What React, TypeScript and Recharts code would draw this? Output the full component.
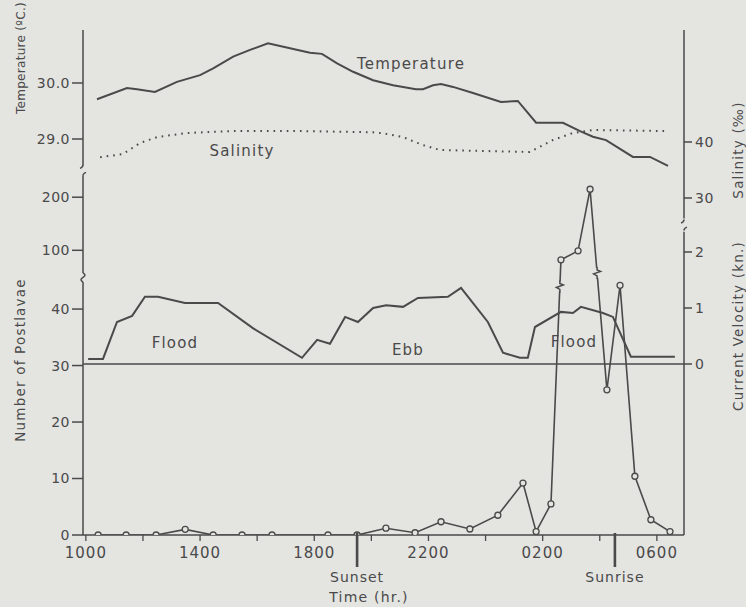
import { ComposedChart, LineChart, Line, XAxis, YAxis, ReferenceLine, ReferenceDot } from 'recharts';

const INK = '#4a4a4a';
const PAPER = '#e4e4e1';
const FONT = '"DejaVu Sans", sans-serif';

// time axis runs in hours after 1000
const X_MIN = -0.1;
const X_MAX = 20.95;
const timeTicks = [0, 2, 4, 6, 8, 10, 12, 14, 16, 18, 20];
const labelledTimes = [0, 4, 8, 12, 16, 20];
const sunMarks = [
  { hour: 9.5, label: 'Sunset' },
  { hour: 18.53, label: 'Sunrise' },
];

const tempHours = [0.39, 1.44, 1.79, 2.42, 3.19, 4.0, 4.46, 5.16, 5.75, 6.38, 7.15, 7.85, 8.27, 8.8, 9.36, 10.06, 10.76, 11.56, 11.81, 12.16, 12.44, 12.86, 13.56, 14.54, 15.13, 15.77, 16.71, 17.31, 17.76, 18.22, 19.16, 19.76, 20.39];
const temperature = [29.71, 29.91, 29.89, 29.84, 30.02, 30.14, 30.26, 30.47, 30.59, 30.71, 30.62, 30.54, 30.52, 30.35, 30.2, 30.05, 29.96, 29.89, 29.89, 29.96, 29.98, 29.93, 29.82, 29.66, 29.68, 29.29, 29.29, 29.14, 29.04, 28.98, 28.68, 28.68, 28.52];

const salinityHours = [0.5, 1.3, 1.9, 2.5, 3.55, 5.15, 7.5, 10.06, 10.4, 11.1, 11.8, 12.4, 15.55, 16.36, 17.06, 17.76, 20.3];
const salinity = [37.27, 37.86, 39.82, 40.89, 41.61, 41.96, 41.96, 41.73, 41.55, 40.89, 39.46, 38.57, 38.21, 40.36, 41.61, 42.14, 41.96];

const currentHours = [0.08, 0.6, 1.09, 1.62, 2.07, 2.53, 3.47, 4.63, 5.85, 7.57, 8.1, 8.55, 9.08, 9.53, 10.06, 10.52, 11.11, 11.63, 12.68, 13.14, 14.08, 14.61, 15.2, 15.48, 15.73, 16.64, 17.06, 17.34, 18.11, 18.46, 19.09, 20.63];
const currentVelocity = [0.09, 0.09, 0.75, 0.86, 1.2, 1.2, 1.09, 1.09, 0.64, 0.11, 0.43, 0.36, 0.84, 0.75, 1.0, 1.05, 1.02, 1.18, 1.2, 1.36, 0.75, 0.2, 0.11, 0.11, 0.66, 0.93, 0.91, 1.02, 0.91, 0.84, 0.13, 0.13];

const larvaeHours = [0.43, 1.41, 2.46, 3.48, 4.46, 5.47, 6.52, 8.48, 9.5, 10.51, 11.53, 12.44, 13.45, 14.43, 15.31, 15.77, 16.29, 16.64, 17.24, 17.66, 18.25, 18.71, 19.23, 19.79, 20.46];
const postlarvae = [0, 0, 0, 1.0, 0, 0, 0, 0, 0, 1.2, 0.4, 2.35, 1.06, 3.5, 9.2, 0.6, 5.5, 82, 99, 215, 25.7, 44.2, 10.4, 2.7, 0.6];

const tempTicks = [29, 30];
const salinityTicks = [30, 40];
const velocityTicks = [0, 1, 2];
const countTicks = [0, 10, 20, 30, 40, 100, 200];

// the count axis is broken: above the break the scale is compressed
const countToAxis = (n: number) => (n <= 47 ? n : 50.4 + (n - 100) * 0.094);
const countAxisTicks = countTicks.map(countToAxis);
const COUNT_TOP = 89.4;

const tempData = tempHours.map((h, i) => ({ h, v: temperature[i] }));
const salinityData = salinityHours.map((h, i) => ({ h, v: salinity[i] }));
const currentData = currentHours.map((h, i) => ({ h, v: currentVelocity[i] }));
const larvaeData = larvaeHours.map((h, i) => ({ h, v: countToAxis(postlarvae[i]) }));

// zig-zags where the larvae line crosses the axis break
const larvaeBreaks = [
  { seg: 16, level: 44 },
  { seg: 19, level: 46.4 },
];
const crossingHour = (i: number, level: number) => {
  const a = countToAxis(postlarvae[i]);
  const b = countToAxis(postlarvae[i + 1]);
  const t = (level - a) / (b - a);
  return larvaeHours[i] + t * (larvaeHours[i + 1] - larvaeHours[i]);
};

const clock = (h: number) => String(((10 + h) % 24) * 100).padStart(4, '0');

const text = { fill: INK, fontFamily: FONT };

function TimeTick({ x, y, payload }: any) {
  const h = payload.value;
  const base = y - 8;
  const sun = sunMarks.find((s) => s.hour === h);
  if (sun) {
    return (
      <g>
        <line x1={x} x2={x} y1={base - 2} y2={base + 32} stroke={INK} strokeWidth={2.6} />
        <text x={x} y={base + 47} textAnchor="middle" fontSize={14} letterSpacing={1} {...text}>
          {sun.label}
        </text>
      </g>
    );
  }
  return (
    <g>
      <line x1={x} x2={x} y1={base} y2={base + 6} stroke={INK} strokeWidth={1.3} />
      {labelledTimes.includes(h) && (
        <text x={x} y={base + 23} textAnchor="middle" fontSize={15} letterSpacing={1} {...text}>
          {clock(h)}
        </text>
      )}
    </g>
  );
}

const Squiggle = ({ cx, cy }: any) => (
  <path
    d={`M${cx},${cy + 4.6} Q${cx - 4},${cy + 2.3} ${cx},${cy} Q${cx + 4},${cy - 2.3} ${cx},${cy - 4.6}`}
    fill="none"
    stroke={INK}
    strokeWidth={1.5}
  />
);

const AxisGap = ({ cx, cy }: any) => (
  <path
    d={`M${cx},${cy - 5.5} q0,2.5 -3,3.5 M${cx},${cy + 5.5} q0,-2.5 3,-3.5`}
    fill="none"
    stroke={INK}
    strokeWidth={1.5}
  />
);

const LineJog = ({ cx, cy }: any) => (
  <g>
    <rect x={cx - 3} y={cy - 5} width={6} height={10} fill={PAPER} />
    <path
      d={`M${cx},${cy + 6} L${cx},${cy + 3} L${cx - 3.5},${cy + 1} L${cx + 3.5},${cy - 1.5} L${cx},${cy - 3} L${cx},${cy - 6}`}
      fill="none"
      stroke={INK}
      strokeWidth={1.5}
    />
  </g>
);

const tickStyle = { fontSize: 14, fill: INK, fontFamily: FONT, letterSpacing: 0.5 };
const axisStroke = { stroke: INK, strokeWidth: 1.5 };
const layer = { position: 'absolute' as const, left: 0, top: 0 };

export default function App() {
  return (
    <div style={{ ...layer, width: 746, height: 607, background: PAPER }}>
      {/* lower panel: postlarvae counts and current velocity, plus the frame */}
      <div style={layer}>
        <ComposedChart width={746} height={607} margin={{ top: 30, right: 0, bottom: 32, left: 0 }}>
          <XAxis
            dataKey="h"
            type="number"
            domain={[X_MIN, X_MAX]}
            allowDataOverflow
            ticks={[...timeTicks, ...sunMarks.map((s) => s.hour)].sort((a, b) => a - b)}
            interval={0}
            tickSize={6}
            tickMargin={2}
            tickLine={false}
            tick={<TimeTick />}
            height={40}
            axisLine={axisStroke}
          />
          <XAxis
            xAxisId="top"
            orientation="top"
            type="number"
            domain={[X_MIN, X_MAX]}
            allowDataOverflow
            tick={false}
            tickLine={false}
            height={0}
            axisLine={axisStroke}
          />
          <YAxis
            yAxisId="count"
            orientation="left"
            width={83}
            type="number"
            domain={[0, COUNT_TOP]}
            allowDataOverflow
            ticks={countAxisTicks}
            interval={0}
            tickFormatter={(v: number) => String(countTicks[countAxisTicks.findIndex((t) => Math.abs(t - v) < 1e-6)])}
            tickSize={11}
            tickMargin={2}
            tick={tickStyle}
            tickLine={axisStroke}
            axisLine={false}
          />
          <YAxis
            yAxisId="vel"
            orientation="right"
            width={62}
            type="number"
            domain={[-3.054, 5.964]}
            allowDataOverflow
            ticks={velocityTicks}
            interval={0}
            tickSize={8}
            tickMargin={3}
            tick={tickStyle}
            tickLine={axisStroke}
            axisLine={false}
          />

          {/* frame sides, broken where the scales change */}
          <ReferenceLine yAxisId="count" ifOverflow="visible" segment={[{ x: X_MIN, y: 0 }, { x: X_MIN, y: 44.8 }]} {...axisStroke} />
          <ReferenceLine yAxisId="count" ifOverflow="visible" segment={[{ x: X_MIN, y: 46.4 }, { x: X_MIN, y: 63.6 }]} {...axisStroke} />
          <ReferenceLine yAxisId="count" ifOverflow="visible" segment={[{ x: X_MIN, y: 65.5 }, { x: X_MIN, y: COUNT_TOP }]} {...axisStroke} />
          <ReferenceLine yAxisId="vel" ifOverflow="visible" segment={[{ x: X_MAX, y: -3.054 }, { x: X_MAX, y: 2.36 }]} {...axisStroke} />
          <ReferenceLine yAxisId="vel" ifOverflow="visible" segment={[{ x: X_MAX, y: 2.6 }, { x: X_MAX, y: 5.964 }]} {...axisStroke} />
          <ReferenceDot yAxisId="count" ifOverflow="visible" x={X_MIN} y={45.6} r={0} shape={(p: any) => <Squiggle {...p} />} />
          <ReferenceDot yAxisId="count" ifOverflow="visible" x={X_MIN} y={64.55} r={0} shape={(p: any) => <AxisGap {...p} />} />
          <ReferenceDot yAxisId="vel" ifOverflow="visible" x={X_MAX} y={2.48} r={0} shape={(p: any) => <AxisGap {...p} />} />

          {/* zero current */}
          <ReferenceLine yAxisId="vel" y={0} stroke={INK} strokeWidth={1.4} />

          <Line data={currentData} dataKey="v" yAxisId="vel" type="linear" stroke={INK} strokeWidth={2} dot={false} isAnimationActive={false} />
          <Line
            data={larvaeData}
            dataKey="v"
            yAxisId="count"
            type="linear"
            stroke={INK}
            strokeWidth={1.6}
            dot={{ r: 3, fill: PAPER, stroke: INK, strokeWidth: 1.3 }}
            isAnimationActive={false}
          />
          {larvaeBreaks.map((b) => (
            <ReferenceDot
              key={b.seg}
              yAxisId="count"
              ifOverflow="visible"
              x={crossingHour(b.seg, b.level)}
              y={b.level}
              r={0}
              shape={(p: any) => <LineJog {...p} />}
            />
          ))}
        </ComposedChart>
      </div>

      {/* upper panel: temperature and salinity on the same plot box */}
      <div style={layer}>
        <LineChart width={746} height={607} margin={{ top: 30, right: 0, bottom: 72, left: 0 }}>
          <XAxis dataKey="h" type="number" domain={[X_MIN, X_MAX]} allowDataOverflow hide />
          <YAxis
            yAxisId="temp"
            orientation="left"
            width={83}
            type="number"
            domain={[21.93, 30.946]}
            allowDataOverflow
            ticks={tempTicks}
            interval={0}
            tickFormatter={(v: number) => v.toFixed(1)}
            tickSize={11}
            tickMargin={2}
            tick={tickStyle}
            tickLine={axisStroke}
            axisLine={false}
          />
          <YAxis
            yAxisId="sal"
            orientation="right"
            width={62}
            type="number"
            domain={[-30.18, 60]}
            allowDataOverflow
            ticks={salinityTicks}
            interval={0}
            tickSize={8}
            tickMargin={3}
            tick={tickStyle}
            tickLine={axisStroke}
            axisLine={false}
          />
          <Line data={tempData} dataKey="v" yAxisId="temp" type="linear" stroke={INK} strokeWidth={2} dot={false} isAnimationActive={false} />
          <Line data={salinityData} dataKey="v" yAxisId="sal" type="linear" stroke={INK} strokeWidth={2} strokeDasharray="1.6 5" dot={false} isAnimationActive={false} />
        </LineChart>
      </div>

      <svg width={746} height={607} style={{ ...layer, pointerEvents: 'none' }}>
        <g {...text} fontSize={12} letterSpacing={0.3}>
          <text transform="translate(25,58) rotate(-90)" textAnchor="middle">Temperature (ºC.)</text>
        </g>
        <g {...text} fontSize={13.5} letterSpacing={1.2}>
          <text transform="translate(743,150) rotate(-90)" textAnchor="middle">Salinity (‰)</text>
          <text transform="translate(25,360) rotate(-90)" textAnchor="middle">Number of Postlavae</text>
          <text transform="translate(743,326) rotate(-90)" textAnchor="middle">Current Velocity (kn.)</text>
        </g>
        <g {...text} fontSize={15} letterSpacing={1.2}>
          <text x={411} y={69} textAnchor="middle">Temperature</text>
          <text x={242} y={156} textAnchor="middle">Salinity</text>
          <text x={175} y={348} textAnchor="middle">Flood</text>
          <text x={408} y={355} textAnchor="middle">Ebb</text>
          <text x={574} y={347} textAnchor="middle">Flood</text>
          <text x={369} y={602} textAnchor="middle" fontSize={14}>Time (hr.)</text>
        </g>
      </svg>
    </div>
  );
}
